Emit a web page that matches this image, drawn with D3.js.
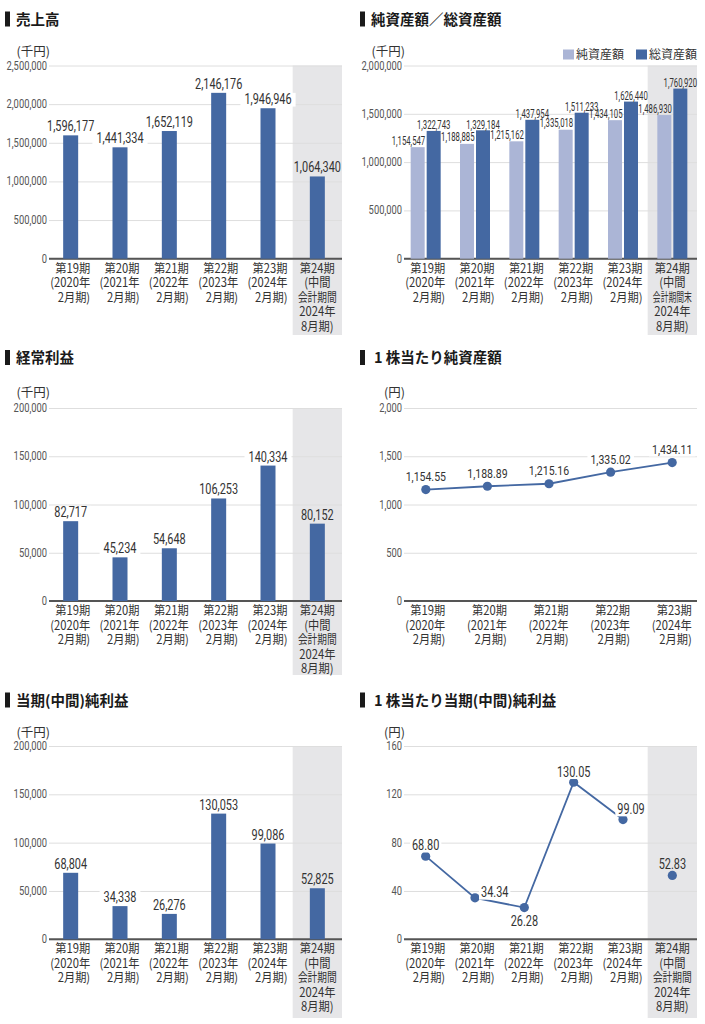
<!DOCTYPE html>
<html><head><meta charset="utf-8">
<script src="https://cdn.jsdelivr.net/npm/d3@7"></script>
<style>
html,body{margin:0;padding:0;background:#fff;}
svg{display:block;}
</style></head>
<body>
<script>
// ---------- DATA ----------
const periods = ["第19期","第20期","第21期","第22期","第23期","第24期"];
const periodSub = [["(2020年","2月期)"],["(2021年","2月期)"],["(2022年","2月期)"],["(2023年","2月期)"],["(2024年","2月期)"]];
const interimSub = ["(中間","会計期間","2024年","8月期)"];
const interimSubAssets = ["(中間","会計期間末","2024年","8月期)"];

const sales = [1596177,1441334,1652119,2146176,1946946,1064340];
const netAssets = [1154547,1188885,1215162,1335018,1434105,1486930];
const totalAssets = [1322743,1329184,1437954,1511233,1626440,1760920];
const ordinaryProfit = [82717,45234,54648,106253,140334,80152];
const bps = [1154.55,1188.89,1215.16,1335.02,1434.11];
const netIncome = [68804,34338,26276,130053,99086,52825];
const eps = [68.80,34.34,26.28,130.05,99.09,52.83];

const ticksSales = [0,500000,1000000,1500000,2000000,2500000];
const ticksAssets = [0,500000,1000000,1500000,2000000];
const ticksProfit = [0,50000,100000,150000,200000];
const ticksBps = [0,500,1000,1500,2000];
const ticksEps = [0,40,80,120,160];

const legendNames = ["純資産額","総資産額"];

// ---------- STYLE ----------
const DARK = "#4468a2", LIGHT = "#abb5d6", BAND = "#e6e6e8", GRID = "#dedede", AXIS = "#555";
const NUMF = "Roboto, 'Noto Sans CJK JP', sans-serif";
const CJKF = "'Noto Sans CJK JP', sans-serif";

const svg = d3.select("body").append("svg").attr("width",705).attr("height",1024);

function label(parent, x, y, str, o={}) {
  const size=o.size||14, anchor=o.anchor||"middle";
  let sx=o.sx||0.78;
  const g = parent.append("g");
  const t = g.append("text").attr("text-anchor",anchor).attr("font-size",size)
    .attr("font-family",o.family||NUMF).attr("fill",o.fill||"#333")
    .attr("font-weight",o.weight||"normal").text(str);
  if (o.maxW) {
    const len = t.node().getComputedTextLength();
    if (len*sx > o.maxW) sx = o.maxW/len;
  }
  g.attr("transform",`translate(${x},${y}) scale(${sx},1)`);
  if (o.bg) {
    const b = t.node().getBBox(); const p=(o.pad||3)/sx;
    g.insert("rect","text").attr("x",b.x-p).attr("y",b.y+2).attr("width",b.width+2*p).attr("height",b.height-3).attr("fill",o.bg);
  }
  return g;
}

function frame(c) {
  const g = svg.append("g");
  // title
  g.append("rect").attr("x",c.ox+5).attr("y",c.titleCY-7.5).attr("width",5).attr("height",15).attr("fill","#1a1a1a");
  g.append("text").attr("x",c.ox+(c.titleDX||16)).attr("y",c.titleCY+5.5).attr("font-family",CJKF)
    .attr("font-size",14.5).attr("font-weight","bold").attr("fill","#1a1a1a").text(c.title);
  // unit
  label(g, c.ox+50, c.unitCY+4, c.unit, {size:12.5, sx:1, anchor:"end", family:CJKF, fill:"#333"});
  const x = d3.scaleBand().domain(d3.range(c.n)).range(c.xRange).padding(0);
  const y = d3.scaleLinear().domain([0,c.max]).range([c.base,c.top]);
  // band
  if (c.band) {
    g.append("rect").attr("x",x(c.n-1)).attr("y",c.top).attr("width",c.axisR-x(c.n-1))
      .attr("height",c.bandBottom-c.top).attr("fill",BAND);
  }
  // grid
  const fmt = c.tickFmt||d3.format(",");
  const ax = d3.axisLeft(y).tickValues(c.ticks).tickSize(-(c.axisR-c.axisL)).tickFormat("");
  const ag = g.append("g").attr("transform",`translate(${c.axisL},0)`).call(ax);
  ag.select(".domain").remove();
  ag.selectAll(".tick line").attr("stroke",GRID).attr("stroke-width",1);
  ag.selectAll(".tick text").remove();
  c.ticks.forEach(v=>{
    label(g, c.ox+47, y(v)+4, fmt(v), {size:12, sx:0.78, anchor:"end", fill:"#555"});
  });
  // baseline
  g.append("line").attr("x1",c.axisL).attr("x2",c.axisR).attr("y1",c.base).attr("y2",c.base)
    .attr("stroke",AXIS).attr("stroke-width",2);
  // x labels
  for (let i=0;i<c.n;i++){
    const cx = x(i)+x.bandwidth()/2;
    if (i<5) {
      const lines=[periods[i]].concat(periodSub[i]);
      lines.forEach((s,j)=>label(g, cx+19.5, c.base+14+j*14.5, s, {size:12.5, sx:0.9, maxW:40, anchor:"end", family:CJKF, fill:"#333"}));
    } else {
      const lines=[periods[i]].concat(c.interim||interimSub);
      lines.forEach((s,j)=>label(g, cx, c.base+14+j*14.5, s, {size:12.5, sx:0.9, maxW:39, anchor:"middle", family:CJKF, fill:"#333"}));
    }
  }
  return {g,x,y};
}

function bars(c, data) {
  const {g,x,y} = frame(c);
  g.selectAll(".bar").data(data).join("rect").attr("class","bar")
    .attr("x",(d,i)=>x(i)+x.bandwidth()/2-7.5).attr("width",15)
    .attr("y",d=>y(d)).attr("height",d=>c.base-y(d)).attr("fill",DARK);
  data.forEach((d,i)=>{
    label(g, x(i)+x.bandwidth()/2, y(d)-4, d3.format(",")(d), {size:14, sx:0.78, bg: i===c.n-1?null:"#fff", pad:4});
  });
}

// Panel 1: 売上高
bars({ox:0,title:"売上高",titleCY:19,unit:"(千円)",unitCY:52,top:65.5,base:258.7,axisL:49,axisR:342,
  xRange:[46,342],n:6,max:2500000,ticks:ticksSales,band:true,bandBottom:335}, sales);

// Panel 2: 純資産額／総資産額
(function(){
  const c={ox:355,title:"純資産額／総資産額",titleCY:19,unit:"(千円)",unitCY:52,top:65.5,base:258.7,axisL:404,axisR:697,
    xRange:[401,697],n:6,max:2000000,ticks:ticksAssets,band:true,bandBottom:335,interim:interimSubAssets};
  const {g,x,y}=frame(c);
  const cx=i=>x(i)+x.bandwidth()/2;
  g.selectAll(".nb").data(netAssets).join("rect").attr("x",(d,i)=>cx(i)-15).attr("width",14)
    .attr("y",d=>y(d)).attr("height",d=>c.base-y(d)).attr("fill",LIGHT);
  g.selectAll(".tb").data(totalAssets).join("rect").attr("x",(d,i)=>cx(i)+1).attr("width",14)
    .attr("y",d=>y(d)).attr("height",d=>c.base-y(d)).attr("fill",DARK);
  netAssets.forEach((d,i)=>label(g, cx(i)-0.5, y(d)-2.5, d3.format(",")(d), {size:12.5, sx:0.62, anchor:"end"}));
  totalAssets.forEach((d,i)=>label(g, cx(i)+8, y(d)-1.5, d3.format(",")(d), {size:12.5, sx:0.62, anchor:"middle"}));
  // legend
  const lg=[{x:563,c:LIGHT},{x:636,c:DARK}];
  lg.forEach((l,i)=>{
    g.append("rect").attr("x",l.x).attr("y",49.5).attr("width",11).attr("height",10).attr("fill",l.c);
    g.append("text").attr("x",l.x+13).attr("y",59).attr("font-family",CJKF).attr("font-size",12)
      .attr("fill","#333").text(legendNames[i]);
  });
})();

// Panel 3: 経常利益
bars({ox:0,title:"経常利益",titleCY:357.5,unit:"(千円)",unitCY:393,top:408,base:601,axisL:49,axisR:342,
  xRange:[46,342],n:6,max:200000,ticks:ticksProfit,band:true,bandBottom:675}, ordinaryProfit);

// Panel 4: 1株当たり純資産額
(function(){
  const c={ox:355,title:"1 株当たり純資産額",titleDX:19,titleCY:357.5,unit:"(円)",unitCY:393,top:408,base:601,axisL:404,axisR:697,
    xRange:[395,703],n:5,max:2000,ticks:ticksBps,band:false};
  const {g,x,y}=frame(c);
  const cx=i=>x(i)+x.bandwidth()/2;
  g.append("path").datum(bps).attr("fill","none").attr("stroke",DARK).attr("stroke-width",1.8)
    .attr("d",d3.line().x((d,i)=>cx(i)).y(d=>y(d)));
  g.selectAll(".pt").data(bps).join("circle").attr("cx",(d,i)=>cx(i)).attr("cy",d=>y(d)).attr("r",4.6).attr("fill",DARK);
  bps.forEach((d,i)=>label(g, cx(i), y(d)-8.5, d3.format(",.2f")(d), {size:13.5, sx:0.78, bg:"#fff", pad:3}));
})();

// Panel 5: 当期(中間)純利益
bars({ox:0,title:"当期(中間)純利益",titleCY:700,unit:"(千円)",unitCY:733,top:746,base:939.3,axisL:49,axisR:342,
  xRange:[46,342],n:6,max:200000,ticks:ticksProfit,band:true,bandBottom:1018}, netIncome);

// Panel 6: 1株当たり当期(中間)純利益
(function(){
  const c={ox:355,title:"1 株当たり当期(中間)純利益",titleDX:19,titleCY:700,unit:"(円)",unitCY:733,top:746,base:939.3,axisL:404,axisR:697,
    xRange:[401,697],n:6,max:160,ticks:ticksEps,band:true,bandBottom:1018,tickFmt:d3.format("d")};
  const {g,x,y}=frame(c);
  const cx=i=>x(i)+x.bandwidth()/2;
  g.append("path").datum(eps.slice(0,5)).attr("fill","none").attr("stroke",DARK).attr("stroke-width",1.8)
    .attr("d",d3.line().x((d,i)=>cx(i)).y(d=>y(d)));
  g.selectAll(".pt").data(eps).join("circle").attr("cx",(d,i)=>cx(i)).attr("cy",d=>y(d)).attr("r",4.6).attr("fill",DARK);
  const off=[[0,-6,"middle"],[6,-0.5,"start"],[0,18.5,"middle"],[0,-5.5,"middle"],[8,-5.6,"middle"],[0,-6.2,"middle"]];
  eps.forEach((d,i)=>label(g, cx(i)+off[i][0], y(d)+off[i][1], d3.format(".2f")(d),
    {size:14, sx:0.78, anchor:off[i][2], bg: i===5?null:"#fff", pad:2}));
})();
</script>
</body></html>
